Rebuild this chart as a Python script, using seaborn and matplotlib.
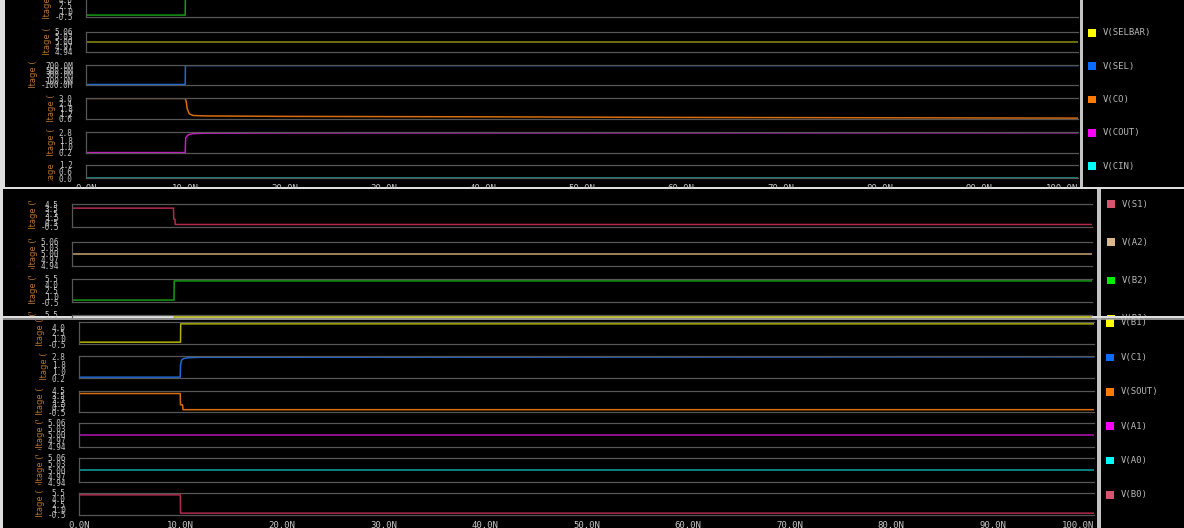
import matplotlib
matplotlib.use("Agg")
import matplotlib.pyplot as plt
import matplotlib.ticker as mticker
from matplotlib.transforms import Bbox, TransformedBbox
import seaborn as sns

# time axis (ns)
time_ticks = [0, 10, 20, 30, 40, 50, 60, 70, 80, 90, 100]
time_labels = ["0.0N", "10.0N", "20.0N", "30.0N", "40.0N", "50.0N",
               "60.0N", "70.0N", "80.0N", "90.0N", "100.0N"]

# y tick sets
yt_logic = [5.5, 4.0, 2.5, 1.0, -0.5]
yt_b1 = [4.0, 2.5, 1.0, -0.5]
yt_flat = [5.06, 5.03, 5.00, 4.97, 4.94]
yt_sel = [0.7, 0.5, 0.3, 0.1, -0.1]
yl_sel = ["700.0M", "500.0M", "300.0M", "100.0M", "-100.0M"]
yt_co = [3.0, 2.4, 1.8, 1.2, 0.6]
yt_out = [2.8, 1.8, 1.0, 0.2]
yt_cin = [1.2, 0.6, 0.0]
yt_sum = [4.5, 3.5, 2.5, 1.5, 0.5, -0.5]

# window 1 waveforms (time in ns, volts)
t_b2_top = [0, 10.0, 10.02, 100]
v_b2_top = [0.0, 0.0, 5.0, 5.0]
t_selbar = [0, 100]
v_selbar = [5.0, 5.0]
t_sel = [0, 10.0, 10.02, 100]
v_sel = [-0.08, -0.08, 0.68, 0.68]
t_co = [0, 10.0, 10.1, 10.2, 10.4, 10.8, 12, 20, 40, 60, 100]
v_co = [2.95, 2.95, 2.6, 1.8, 1.2, 1.0, 0.95, 0.9, 0.85, 0.78, 0.7]
t_cout = [0, 10.0, 10.05, 10.3, 10.8, 12, 20, 100]
v_cout = [0.25, 0.25, 2.1, 2.45, 2.6, 2.65, 2.68, 2.7]
t_cin = [0, 100]
v_cin = [0.03, 0.03]

# window 2
t_s1 = [0, 9.95, 9.97, 10.1, 10.12, 100]
v_s1 = [3.6, 3.6, 1.2, 1.2, 0.05, 0.05]
t_a2 = [0, 100]
v_a2 = [5.0, 5.0]
t_b2 = [0, 10.0, 10.02, 100]
v_b2 = [0.0, 0.0, 5.0, 5.0]

# window 3
t_b1 = [0, 10.0, 10.02, 100]
v_b1 = [0.0, 0.0, 5.0, 5.0]
t_c1 = [0, 9.97, 10.0, 10.1, 10.3, 10.8, 12, 100]
v_c1 = [0.3, 0.3, 1.7, 2.3, 2.5, 2.6, 2.65, 2.7]
t_sout = [0, 9.97, 10.0, 10.2, 10.25, 100]
v_sout = [3.9, 3.9, 1.2, 1.2, 0.05, 0.05]
t_a1 = [0, 100]
v_a1 = [5.0, 5.0]
t_a0 = [0, 100]
v_a0 = [5.0, 5.0]
t_b0 = [0, 9.98, 10.0, 100]
v_b0 = [5.0, 5.0, 0.0, 0.0]

# legend panels
legend_w1 = ["V(SELBAR)", "V(SEL)", "V(CO)", "V(COUT)", "V(CIN)"]
legend_w2 = ["V(S1)", "V(A2)", "V(B2)", "V(B1)"]
legend_w3 = ["V(B1)", "V(C1)", "V(SOUT)", "V(A1)", "V(A0)", "V(B0)"]
swatch_w1 = ["#ffff00", "#0a6cff", "#ff7a00", "#ff00ff", "#00ffff"]
swatch_w2 = ["#d8546e", "#d9b88e", "#00f000", "#ffff00"]
swatch_w3 = ["#ffff00", "#0a6cff", "#ff7a00", "#ff00ff", "#00ffff", "#d8546e"]

W, H = 1184, 528
sns.set_theme(style="dark")
plt.rcParams["font.family"] = ["DejaVu Sans Mono", "DejaVu Sans"]

fig = plt.figure(figsize=(W / 100, H / 100), dpi=100)
fig.patch.set_facecolor("#dedede")


def px_rect(x0, y0, x1, y1):
    return [x0 / W, 1 - y1 / H, (x1 - x0) / W, (y1 - y0) / H]


def add_frame(box, sep, z):
    x0, y0, x1, y1 = box
    ax = fig.add_axes(px_rect(x0, y0, x1, y1), zorder=z)
    ax.set_facecolor("black")
    ax.set_xlim(x0, x1)
    ax.set_ylim(y1, y0)
    ax.set_xticks([])
    ax.set_yticks([])
    for s in ax.spines.values():
        s.set_visible(False)
    ax.axvspan(sep[0], sep[1], color="#c4c4c4", lw=0)
    return ax


def add_legend(ax, names, colors, sq_x, tx_x, y_first, step):
    ys = [y_first + i * step for i in range(len(names))]
    ax.scatter([sq_x] * len(names), ys, marker="s", s=30, c=colors,
               linewidths=0, clip_on=True)
    for name, y in zip(names, ys):
        ax.text(tx_x, y, name, color="#b8b8b8", fontsize=6.5, va="center",
                ha="left", clip_on=True)


def add_strip(plot_x, z, top, bot, t, v, color, ticks, ylim,
              labels=None, fmt="{:.1f}", xlabels=False):
    x0, x1 = plot_x
    ax = fig.add_axes(px_rect(x0, top, x1, bot), zorder=z)
    ax.patch.set_alpha(0)
    sns.lineplot(x=t, y=v, ax=ax, color=color, lw=1.1, estimator=None, sort=False)
    ax.set_xlim(0, 100)
    ax.set_ylim(*ylim)
    ax.set_yticks(ticks)
    ax.set_yticklabels(labels if labels else [fmt.format(k) for k in ticks])
    ax.yaxis.set_minor_locator(mticker.LinearLocator(13))
    ax.tick_params(axis="y", which="both", length=8.5, width=0.6,
                   color="#5a5a5a", pad=1, labelsize=5.5, labelcolor="#c8c8c8")
    ax.set_xticks(time_ticks)
    ax.xaxis.set_minor_locator(mticker.MultipleLocator(2))
    ax.tick_params(axis="x", which="minor", direction="inout", length=2.5,
                   width=0.8, color="#6a6a6a")
    if xlabels:
        ax.set_xticklabels(time_labels)
        ax.tick_params(axis="x", which="major", direction="inout", length=5,
                       width=0.8, color="#8a8a8a", pad=1.5, labelsize=6.5,
                       labelcolor="#c8c8c8")
        ax.get_xticklabels()[-1].set_horizontalalignment("right")
    else:
        ax.set_xticklabels([])
        ax.tick_params(axis="x", which="major", direction="inout", length=3,
                       width=0.8, color="#7a7a7a")
    for side in ["top", "bottom", "left"]:
        ax.spines[side].set_color("#575757")
        ax.spines[side].set_linewidth(0.9)
    ax.spines["right"].set_visible(False)
    ax.set_xlabel("")
    ax.set_ylabel("Voltage (V)", color="#b8742e", fontsize=6, labelpad=2,
                  family="DejaVu Sans")
    clip = Bbox.from_extents(0, 1 - (bot + 3) / H, x0 / W, 1 - (top - 3) / H)
    ax.yaxis.label.set_clip_box(TransformedBbox(clip, fig.transFigure))
    ax.yaxis.label.set_clip_on(True)
    return ax


# window 1
f1 = add_frame((5, 0, 1184, 187), (1079.5, 1083), 0)
add_legend(f1, legend_w1, swatch_w1, 1092, 1103, 33, 33.3)
p1 = (86, 1078)
add_strip(p1, 1, -6, 17, t_b2_top, v_b2_top, "#169a16", yt_logic, (-0.5, 5.5))
add_strip(p1, 1, 32, 52, t_selbar, v_selbar, "#8e8e12", yt_flat, (4.94, 5.06), fmt="{:.2f}")
add_strip(p1, 1, 65, 85, t_sel, v_sel, "#1d6ad6", yt_sel, (-0.1, 0.7), labels=yl_sel)
add_strip(p1, 1, 98, 119, t_co, v_co, "#d86c10", yt_co, (0.6, 3.0))
add_strip(p1, 1, 132, 153, t_cout, v_cout, "#c81cc8", yt_out, (0.2, 2.8))
add_strip(p1, 1, 165, 178, t_cin, v_cin, "#12a4a4", yt_cin, (0.0, 1.2), xlabels=True)

# window 2
f2 = add_frame((3, 189, 1184, 316), (1097, 1101), 2)
add_legend(f2, legend_w2, swatch_w2, 1111, 1122, 204, 38.3)
p2 = (72, 1092)
add_strip(p2, 3, 204, 227, t_s1, v_s1, "#b02c4c", yt_sum, (-0.5, 4.5))
add_strip(p2, 3, 242, 266, t_a2, v_a2, "#c9a274", yt_flat, (4.94, 5.06), fmt="{:.2f}")
add_strip(p2, 3, 279, 302, t_b2, v_b2, "#169a16", yt_logic, (-0.5, 5.5))
add_strip(p2, 3, 315, 338, t_b1, v_b1, "#b4b400", yt_logic, (-0.5, 5.5))

# window 3
f3 = add_frame((3, 318, 1184, 528), (1097, 1101), 4)
f3.axhline(318.6, color="#a8a8a8", lw=1.2)
add_legend(f3, legend_w3, swatch_w3, 1110, 1121, 323, 34.4)
p3 = (79, 1094)
add_strip(p3, 5, 322, 344, t_b1, v_b1, "#b4b400", yt_b1, (-0.5, 5.5))
add_strip(p3, 5, 356, 378, t_c1, v_c1, "#1d6ad6", yt_out, (0.2, 2.8))
add_strip(p3, 5, 391, 412, t_sout, v_sout, "#d86c10", yt_sum, (-0.5, 4.5))
add_strip(p3, 5, 423, 447, t_a1, v_a1, "#b414b4", yt_flat, (4.94, 5.06), fmt="{:.2f}")
add_strip(p3, 5, 458, 482, t_a0, v_a0, "#12a4a4", yt_flat, (4.94, 5.06), fmt="{:.2f}")
add_strip(p3, 5, 493, 515, t_b0, v_b0, "#b02c4c", yt_logic, (-0.5, 5.5), xlabels=True)

fig.savefig("out.png", dpi=100, facecolor=fig.get_facecolor())
